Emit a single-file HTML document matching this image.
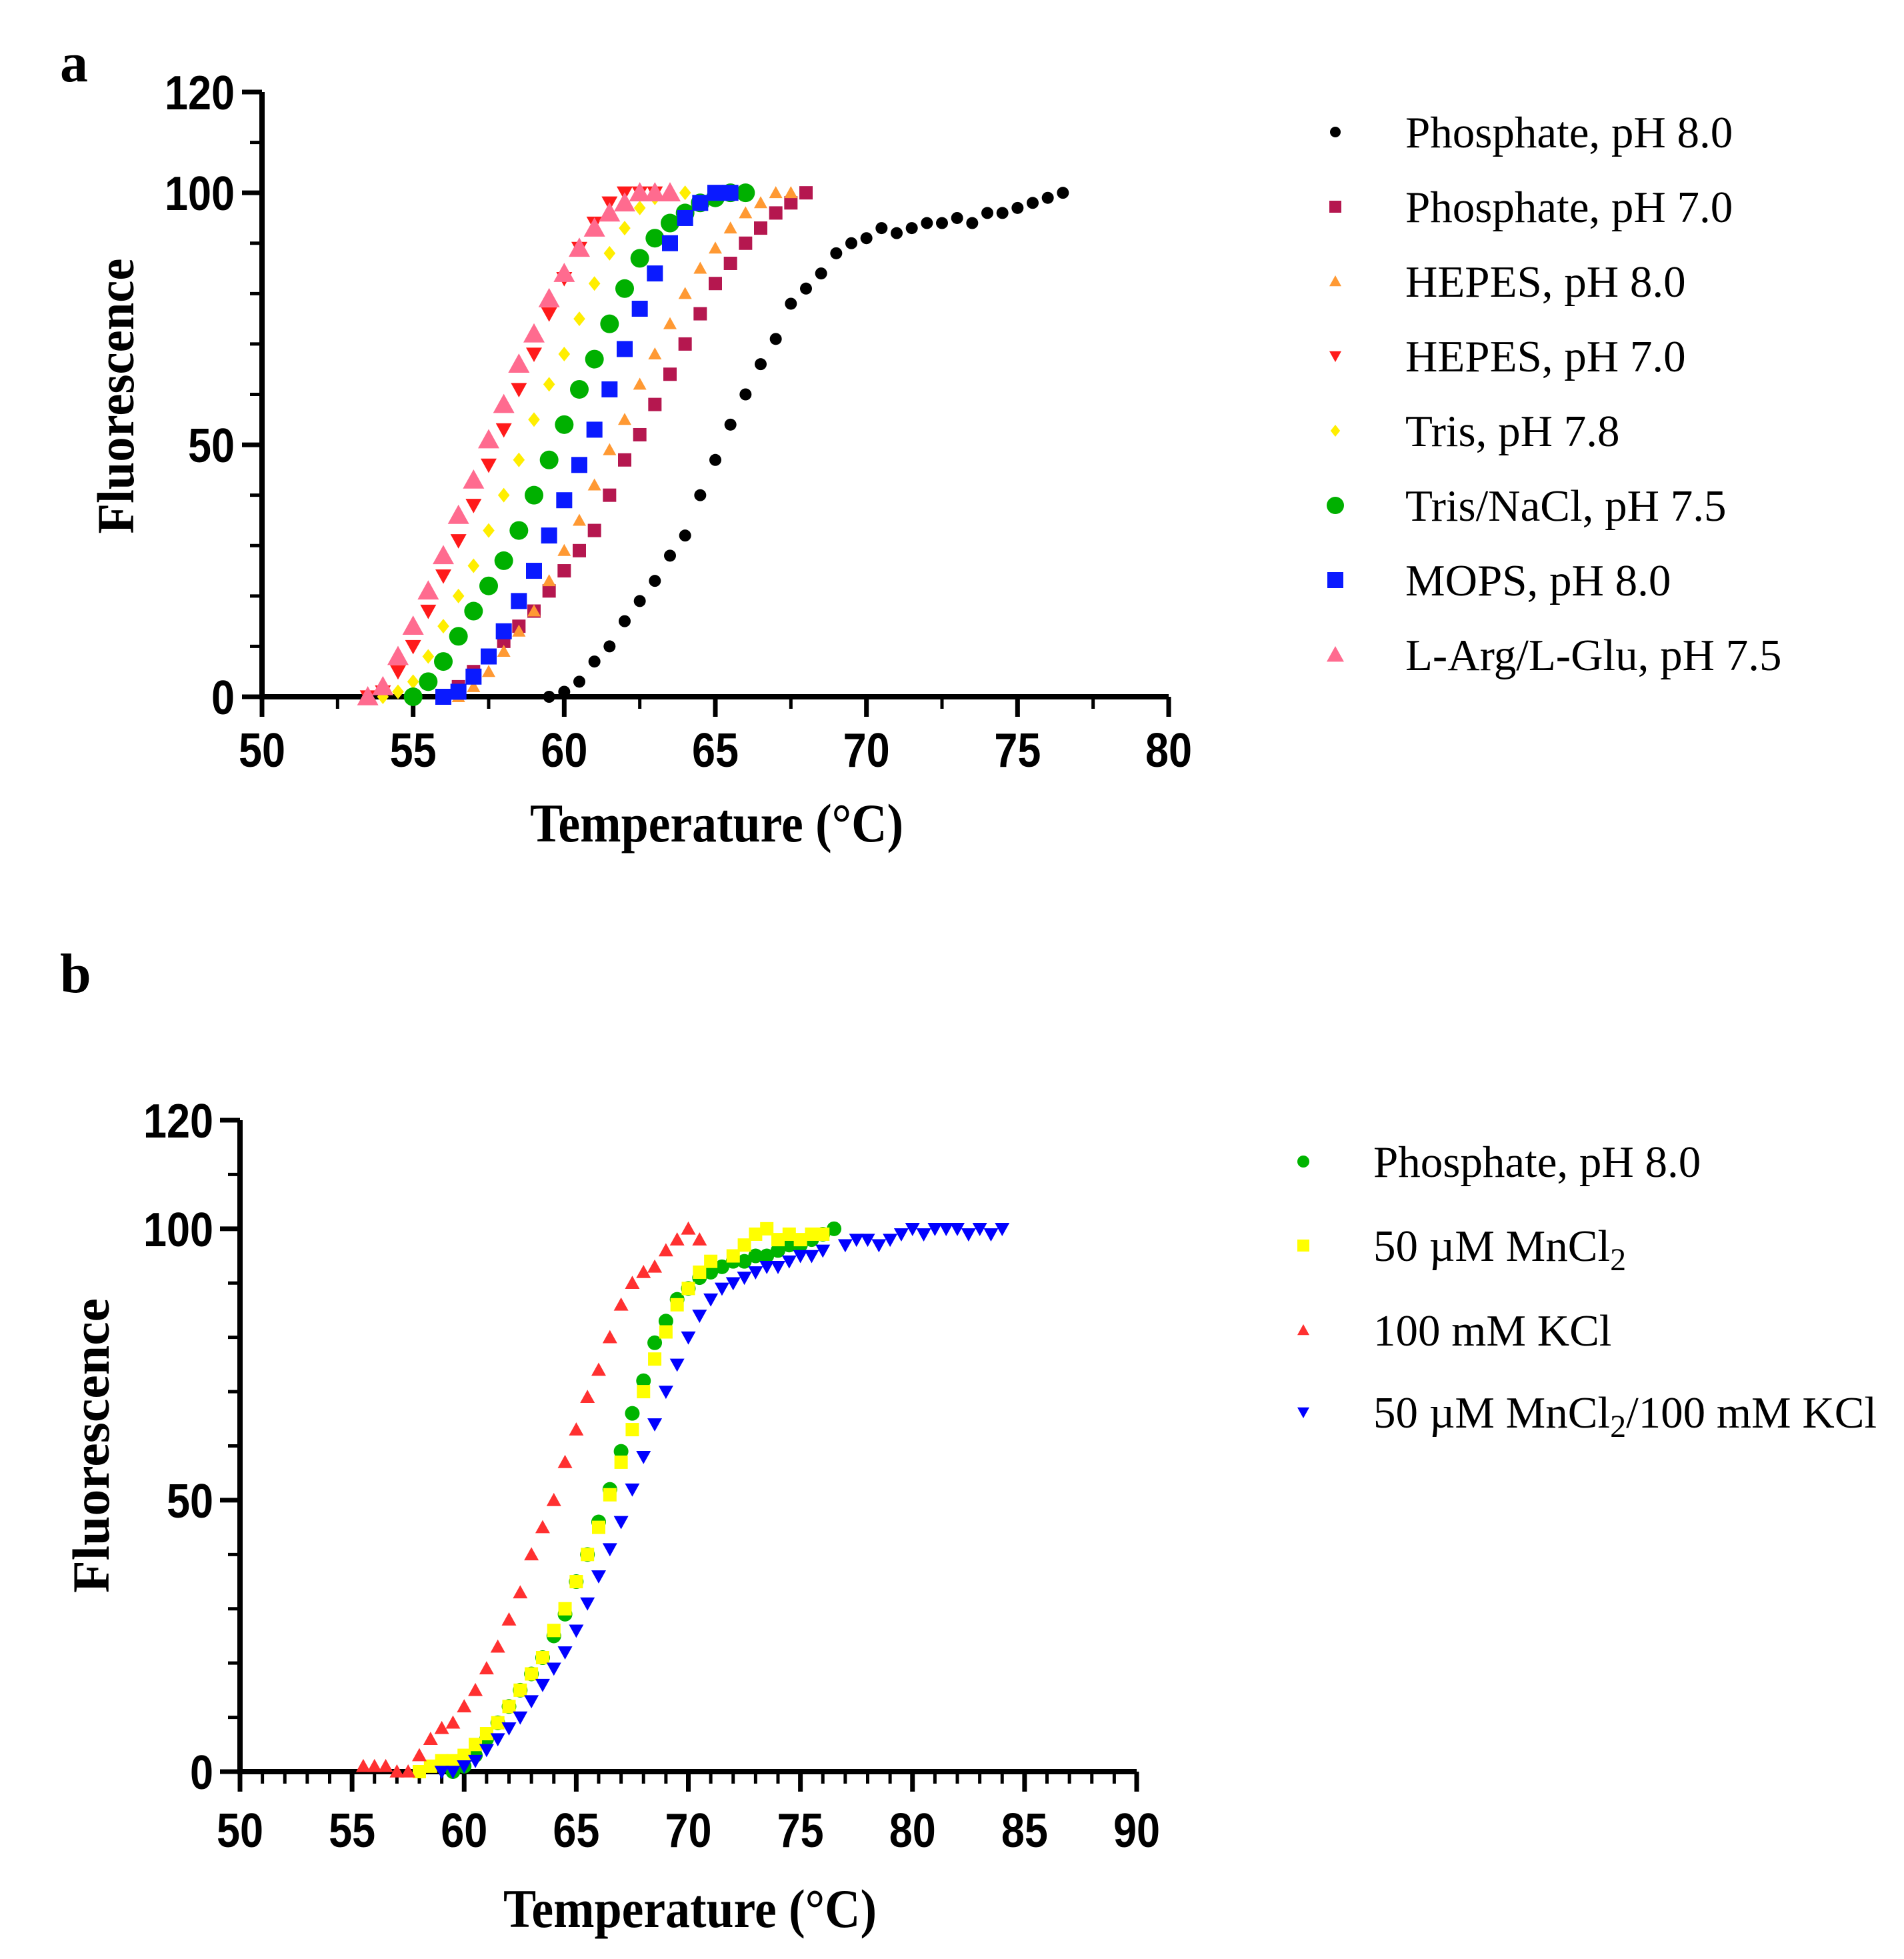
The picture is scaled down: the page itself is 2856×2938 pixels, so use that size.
<!DOCTYPE html>
<html><head><meta charset="utf-8"><title>Thermal melt curves</title>
<style>html,body{margin:0;padding:0;background:#fff}svg{display:block}</style></head>
<body>
<svg id="fig" xmlns="http://www.w3.org/2000/svg" width="2856" height="2938" viewBox="0 0 2856 2938">
<rect width="2856" height="2938" fill="#fff"/>
<text x="90" y="122" font-family="Liberation Serif, serif" font-weight="bold" font-size="84">a</text>
<text x="90" y="1488" font-family="Liberation Serif, serif" font-weight="bold" font-size="84">b</text>
<g id="pa"></g>
<g id="pb"></g>
</svg>
<script>
// ---- Panel A data ----
const aXTicks = [50,55,60,65,70,75,80];
const aYTicks = [0,50,100,120];
const aNames = ["Phosphate, pH 8.0","Phosphate, pH 7.0","HEPES, pH 8.0","HEPES, pH 7.0","Tris, pH 7.8","Tris/NaCl, pH 7.5","MOPS, pH 8.0","L-Arg/L-Glu, pH 7.5"];
const aPhos8T = [59.5,60,60.5,61,61.5,62,62.5,63,63.5,64,64.5,65,65.5,66,66.5,67,67.5,68,68.5,69,69.5,70,70.5,71,71.5,72,72.5,73,73.5,74,74.5,75,75.5,76,76.5];
const aPhos8F = [0,1,3,7,10,15,19,23,28,32,40,47,54,60,66,71,78,81,84,88,90,91,93,92,93,94,94,95,94,96,96,97,98,99,100];
const aPhos7T = [56,56.5,57,57.5,58,58.5,59,59.5,60,60.5,61,61.5,62,62.5,63,63.5,64,64.5,65,65.5,66,66.5,67,67.5,68];
const aPhos7F = [0,2,5,8,11,14,17,21,25,29,33,40,47,52,58,64,70,76,82,86,90,93,96,98,100];
const aHep8T = [56.5,57,57.5,58,58.5,59,59.5,60,60.5,61,61.5,62,62.5,63,63.5,64,64.5,65,65.5,66,66.5,67,67.5];
const aHep8F = [0,2,5,9,13,17,23,29,35,42,49,55,62,68,74,80,85,89,93,96,98,100,100];
const aHep7T = [53.5,54,54.5,55,55.5,56,56.5,57,57.5,58,58.5,59,59.5,60,60.5,61,61.5,62,62.5,63];
const aHep7F = [0,1,5,10,17,24,31,38,46,53,61,68,76,83,89,94,98,100,100,100];
const aTrisT = [54,54.5,55,55.5,56,56.5,57,57.5,58,58.5,59,59.5,60,60.5,61,61.5,62,62.5,63,63.5,64];
const aTrisF = [0,1,3,8,14,20,26,33,40,47,55,62,68,75,82,88,93,97,99,100,100];
const aTnT = [55,55.5,56,56.5,57,57.5,58,58.5,59,59.5,60,60.5,61,61.5,62,62.5,63,63.5,64,64.5,65,65.5,66];
const aTnF = [0,3,7,12,17,22,27,33,40,47,54,61,67,74,81,87,91,94,96,98,99,100,100];
const aMopsT = [56,56.5,57,57.5,58,58.5,59,59.5,60,60.5,61,61.5,62,62.5,63,63.5,64,64.5,65,65.5];
const aMopsF = [0,1,4,8,13,19,25,32,39,46,53,61,69,77,84,90,95,98,100,100];
const aArgT = [53.5,54,54.5,55,55.5,56,56.5,57,57.5,58,58.5,59,59.5,60,60.5,61,61.5,62,62.5,63,63.5];
const aArgF = [0,2,8,14,21,28,36,43,51,58,66,72,79,84,89,93,96,98,100,100,100];
// ---- Panel B data ----
const bXTicks = [50,55,60,65,70,75,80,85,90];
const bYTicks = [0,50,100,120];
const bPhosT = [59.5,60,60.5,61,61.5,62,62.5,63,63.5,64,64.5,65,65.5,66,66.5,67,67.5,68,68.5,69,69.5,70,70.5,71,71.5,72,72.5,73,73.5,74,74.5,75,75.5,76,76.5];
const bPhosF = [0,1,3,6,9,12,15,18,21,25,29,35,40,46,52,59,66,72,79,83,87,89,91,92,93,94,94,95,95,96,97,97,98,99,100];
const bMnT = [58,58.5,59,59.5,60,60.5,61,61.5,62,62.5,63,63.5,64,64.5,65,65.5,66,66.5,67,67.5,68,68.5,69,69.5,70,70.5,71,72,72.5,73,73.5,74,74.5,75,75.5,76];
const bMnF = [0,1,2,2,3,5,7,9,12,15,18,21,26,30,35,40,45,51,57,63,70,76,81,86,89,92,94,95,97,99,100,98,99,98,99,99];
const bKT = [55.5,56,56.5,57,57.5,58,58.5,59,59.5,60,60.5,61,61.5,62,62.5,63,63.5,64,64.5,65,65.5,66,66.5,67,67.5,68,68.5,69,69.5,70,70.5];
const bKF = [1,1,1,0,0,3,6,8,9,12,15,19,23,28,33,40,45,50,57,63,69,74,80,86,90,92,93,96,98,100,98];
const bMnKT = [59,59.5,60,60.5,61,61.5,62,62.5,63,63.5,64,64.5,65,65.5,66,66.5,67,67.5,68,68.5,69,69.5,70,70.5,71,71.5,72,72.5,73,73.5,74,74.5,75,75.5,76,77,77.5,78,78.5,79,79.5,80,80.5,81,81.5,82,82.5,83,83.5,84];
const bMnKF = [0,0,1,2,4,6,8,10,13,16,19,22,26,31,36,41,46,52,58,64,70,75,80,84,87,89,90,91,92,93,93,94,95,95,96,97,98,98,97,98,99,100,99,100,100,100,99,100,99,100];

const NS='http://www.w3.org/2000/svg';
function mk(tag,attrs,parent){const e=document.createElementNS(NS,tag);for(const k in attrs)e.setAttribute(k,attrs[k]);parent.appendChild(e);return e;}
function marker(g,shape,cx,cy,s,color){
  let e;
  if(shape==='circle'){e=mk('circle',{cx:cx,cy:cy,r:s,fill:color},g);}
  else if(shape==='square'){e=mk('rect',{x:cx-s,y:cy-s,width:2*s,height:2*s,fill:color},g);}
  else if(shape==='up'){e=mk('polygon',{points:`${cx},${cy-s} ${cx+s*1.0},${cy+s*0.8} ${cx-s*1.0},${cy+s*0.8}`,fill:color},g);}
  else if(shape==='down'){e=mk('polygon',{points:`${cx},${cy+s} ${cx+s*1.0},${cy-s*0.8} ${cx-s*1.0},${cy-s*0.8}`,fill:color},g);}
  else {e=mk('polygon',{points:`${cx},${cy-s} ${cx+s*0.8},${cy} ${cx},${cy+s} ${cx-s*0.8},${cy}`,fill:color},g);}
  return e;
}
function panel(g,cfg){
  const sx=v=>cfg.x0+(v-cfg.xmin)/(cfg.xmax-cfg.xmin)*(cfg.x1-cfg.x0);
  const sy=v=>cfg.y0-(v-0)/(120)*(cfg.y0-cfg.y1);
  const ax=mk('g',{},g);
  
  
  mk('line',{x1:cfg.x0,y1:cfg.y0,x2:cfg.x1,y2:cfg.y0,stroke:'#000','stroke-width':8},ax);
  for(let v=cfg.xmin;v<=cfg.xmax;v+=cfg.xminor){
    const maj=(v-cfg.xmin)%5===0;
    mk('line',{x1:sx(v),y1:cfg.y0,x2:sx(v),y2:cfg.y0+(maj?30:18),stroke:'#000','stroke-width':maj?7:5},ax);
  }
  cfg.xt.forEach(v=>{
    const t=mk('text',{x:sx(v),y:cfg.xly,'text-anchor':'middle','font-family':'Liberation Sans, sans-serif','font-weight':'bold','font-size':72,textLength:70,lengthAdjust:'spacingAndGlyphs'},ax);
    
    
    t.textContent=v;
  });
  const ay=mk('g',{},g);
  
  
  mk('line',{x1:cfg.x0,y1:cfg.y0+4,x2:cfg.x0,y2:cfg.y1,stroke:'#000','stroke-width':8},ay);
  for(let v=0;v<=120;v+=10){
    const maj=(v%50===0)||v===120;
    mk('line',{x1:cfg.x0,y1:sy(v),x2:cfg.x0-(maj?30:18),y2:sy(v),stroke:'#000','stroke-width':maj?7:5},ay);
  }
  cfg.yt.forEach(v=>{
    const s=String(v);
    const t=mk('text',{x:cfg.ylx,y:sy(v)+26,'text-anchor':'end','font-family':'Liberation Sans, sans-serif','font-weight':'bold','font-size':72,textLength:35*s.length,lengthAdjust:'spacingAndGlyphs'},ay);
    
    
    t.textContent=s;
  });
  const yt=mk('text',{x:0,y:0,transform:`translate(${cfg.ytx},${cfg.yty}) rotate(-90)`,'text-anchor':'middle','font-family':'Liberation Serif, serif','font-weight':'bold','font-size':78,textLength:cfg.ytl,lengthAdjust:'spacingAndGlyphs'},g);
  
  
  yt.textContent='Fluorescence';
  const xt=mk('text',{x:cfg.xtx,y:cfg.xty,'text-anchor':'middle','font-family':'Liberation Serif, serif','font-weight':'bold','font-size':82,textLength:560,lengthAdjust:'spacingAndGlyphs'},g);
  
  
  xt.textContent='Temperature (°C)';
  cfg.series.forEach((s,i)=>{
    const sg=mk('g',{},g);
    
    
    s.t.forEach((tv,j)=>{
      const m=marker(sg,s.shape,sx(tv),sy(s.f[j]),s.size,s.color);
      
      
    });
    const lg=mk('g',{},g);
    
    
    const ly=cfg.legY[i];
    marker(lg,s.shape,cfg.legMX,ly,s.lsize,s.color);
    const lt=mk('text',{x:cfg.legTX,y:ly+23,'font-family':'Liberation Serif, serif','font-size':67},lg);
    lt.innerHTML=s.label;
  });
}
panel(document.getElementById('pa'),{
  x0:393,x1:1753,y0:1045,y1:138,xmin:50,xmax:80,xminor:2.5,xt:aXTicks,yt:aYTicks,
  xly:1150,ylx:352,ytx:200,yty:594,ytl:413,xtx:1075,xty:1262,
  legMX:2003,legTX:2108,legY:[198,310,422,534,646,758,870,982],
  series:[
    {key:'phosphate-8',t:aPhos8T,f:aPhos8F,shape:'circle',size:9,lsize:8,color:'#000',label:aNames[0]},
    {key:'phosphate-7',t:aPhos7T,f:aPhos7F,shape:'square',size:10,lsize:9,color:'#b5174f',label:aNames[1]},
    {key:'hepes-8',t:aHep8T,f:aHep8F,shape:'up',size:10,lsize:9,color:'#ff9933',label:aNames[2]},
    {key:'hepes-7',t:aHep7T,f:aHep7F,shape:'down',size:12,lsize:9,color:'#ff1a1a',label:aNames[3]},
    {key:'tris-7-8',t:aTrisT,f:aTrisF,shape:'diamond',size:11,lsize:9,color:'#ffee00',label:aNames[4]},
    {key:'tris-nacl',t:aTnT,f:aTnF,shape:'circle',size:14,lsize:13,color:'#00b000',label:aNames[5]},
    {key:'mops',t:aMopsT,f:aMopsF,shape:'square',size:12,lsize:12,color:'#0a1aff',label:aNames[6]},
    {key:'larg-lglu',t:aArgT,f:aArgF,shape:'up',size:16,lsize:13,color:'#ff6b8f',label:aNames[7]}
  ]});
panel(document.getElementById('pb'),{
  x0:360,x1:1705,y0:2657,y1:1680,xmin:50,xmax:90,xminor:1,xt:bXTicks,yt:bYTicks,
  xly:2770,ylx:320,ytx:163,yty:2168,ytl:442,xtx:1035,xty:2890,
  legMX:1955,legTX:2060,legY:[1742,1868,1995,2118],
  series:[
    {key:'phosphate-8',t:bPhosT,f:bPhosF,shape:'circle',size:11,lsize:9,color:'#00b400',label:'Phosphate, pH 8.0'},
    {key:'mncl2',t:bMnT,f:bMnF,shape:'square',size:10,lsize:9,color:'#ffff00',label:'50 µM MnCl<tspan dy="14" font-size="48">2</tspan>'},
    {key:'kcl',t:bKT,f:bKF,shape:'up',size:11,lsize:9,color:'#ff3030',label:'100 mM KCl'},
    {key:'mncl2-kcl',t:bMnKT,f:bMnKF,shape:'down',size:11,lsize:9,color:'#0000ff',label:'50 µM MnCl<tspan dy="14" font-size="48">2</tspan><tspan dy="-14">/100 mM KCl</tspan>'}
  ]});
</script>
</body></html>
